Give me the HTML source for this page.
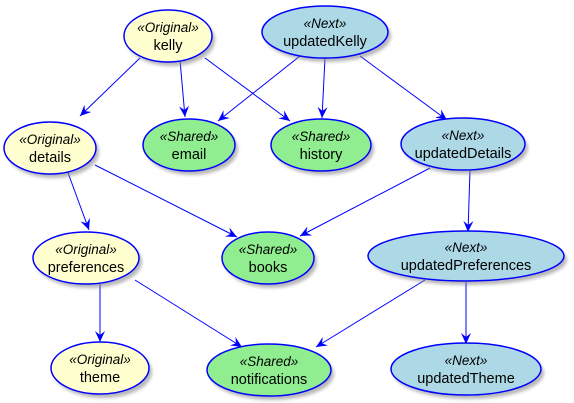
<!DOCTYPE html>
<html><head><style>
html,body{margin:0;padding:0;background:#fff;width:574px;height:403px;overflow:hidden}
svg{display:block}
text{font-family:"Liberation Sans","DejaVu Sans",sans-serif;fill:#000;text-anchor:middle}
.s{font-style:italic;font-size:13.5px}
.n{font-size:14.5px}
</style></head><body>
<svg width="574" height="403" viewBox="0 0 574 403" xmlns="http://www.w3.org/2000/svg">
<defs>
<marker id="a" viewBox="0 0 12 10" refX="11" refY="5" markerWidth="12" markerHeight="10" markerUnits="userSpaceOnUse" orient="auto">
<path d="M0,0 L11,5 L0,10 L4,5 Z" fill="#0000ff"/>
</marker>
<filter id="sh" x="-20%" y="-20%" width="150%" height="160%"><feGaussianBlur stdDeviation="1.5"/></filter>
</defs>
<g stroke="#0000ff" stroke-width="1" fill="none" marker-end="url(#a)">
<line x1="140" y1="58" x2="80" y2="116"/>
<line x1="180" y1="60" x2="185" y2="117"/>
<line x1="205" y1="58" x2="290" y2="121"/>
<line x1="300" y1="56" x2="218" y2="121"/>
<line x1="325" y1="58" x2="322" y2="118"/>
<line x1="360" y1="56" x2="447" y2="120"/>
<line x1="67" y1="170" x2="89" y2="230"/>
<line x1="95" y1="165" x2="237" y2="237"/>
<line x1="430" y1="168" x2="300" y2="236"/>
<line x1="470" y1="170" x2="468" y2="232"/>
<line x1="100" y1="284" x2="100" y2="342"/>
<line x1="135" y1="280" x2="242" y2="347"/>
<line x1="425" y1="280" x2="316" y2="347"/>
<line x1="466" y1="282" x2="466" y2="344"/>
</g>
<g fill="#888" opacity="0.6" filter="url(#sh)">
<ellipse cx="171" cy="40" rx="44" ry="26"/>
<ellipse cx="328" cy="36" rx="63" ry="26"/>
<ellipse cx="53" cy="152" rx="46" ry="26"/>
<ellipse cx="192" cy="149" rx="46" ry="26"/>
<ellipse cx="324" cy="149" rx="50" ry="26"/>
<ellipse cx="466" cy="148" rx="62" ry="26"/>
<ellipse cx="89" cy="262" rx="53" ry="26"/>
<ellipse cx="271" cy="262" rx="46" ry="26"/>
<ellipse cx="469" cy="260" rx="98" ry="25"/>
<ellipse cx="103" cy="372" rx="49" ry="26"/>
<ellipse cx="272" cy="374" rx="62" ry="26"/>
<ellipse cx="469" cy="373" rx="75" ry="26"/>
</g>
<g stroke="#0000ff" stroke-width="1.5">
<ellipse cx="168" cy="36" rx="44" ry="26" fill="#fefece"/>
<ellipse cx="325" cy="32" rx="63" ry="26" fill="#add8e6"/>
<ellipse cx="50" cy="148" rx="46" ry="26" fill="#fefece"/>
<ellipse cx="189" cy="145" rx="46" ry="26" fill="#90ee90"/>
<ellipse cx="321" cy="145" rx="50" ry="26" fill="#90ee90"/>
<ellipse cx="463" cy="144" rx="62" ry="26" fill="#add8e6"/>
<ellipse cx="86" cy="258" rx="53" ry="26" fill="#fefece"/>
<ellipse cx="268" cy="258" rx="46" ry="26" fill="#90ee90"/>
<ellipse cx="466" cy="256" rx="98" ry="25" fill="#add8e6"/>
<ellipse cx="100" cy="368" rx="49" ry="26" fill="#fefece"/>
<ellipse cx="269" cy="370" rx="62" ry="26" fill="#90ee90"/>
<ellipse cx="466" cy="369" rx="75" ry="26" fill="#add8e6"/>
</g>
<text class="s" x="168" y="32">«Original»</text><text class="n" x="168" y="50">kelly</text>
<text class="s" x="325" y="28">«Next»</text><text class="n" x="325" y="46">updatedKelly</text>
<text class="s" x="50" y="144">«Original»</text><text class="n" x="50" y="162">details</text>
<text class="s" x="189" y="141">«Shared»</text><text class="n" x="189" y="159">email</text>
<text class="s" x="321" y="141">«Shared»</text><text class="n" x="321" y="159">history</text>
<text class="s" x="463" y="140">«Next»</text><text class="n" x="463" y="158">updatedDetails</text>
<text class="s" x="86" y="254">«Original»</text><text class="n" x="86" y="272">preferences</text>
<text class="s" x="268" y="254">«Shared»</text><text class="n" x="268" y="272">books</text>
<text class="s" x="466" y="252">«Next»</text><text class="n" x="466" y="270">updatedPreferences</text>
<text class="s" x="100" y="364">«Original»</text><text class="n" x="100" y="382">theme</text>
<text class="s" x="269" y="366">«Shared»</text><text class="n" x="269" y="384">notifications</text>
<text class="s" x="466" y="365">«Next»</text><text class="n" x="466" y="383">updatedTheme</text>
</svg>
</body></html>
